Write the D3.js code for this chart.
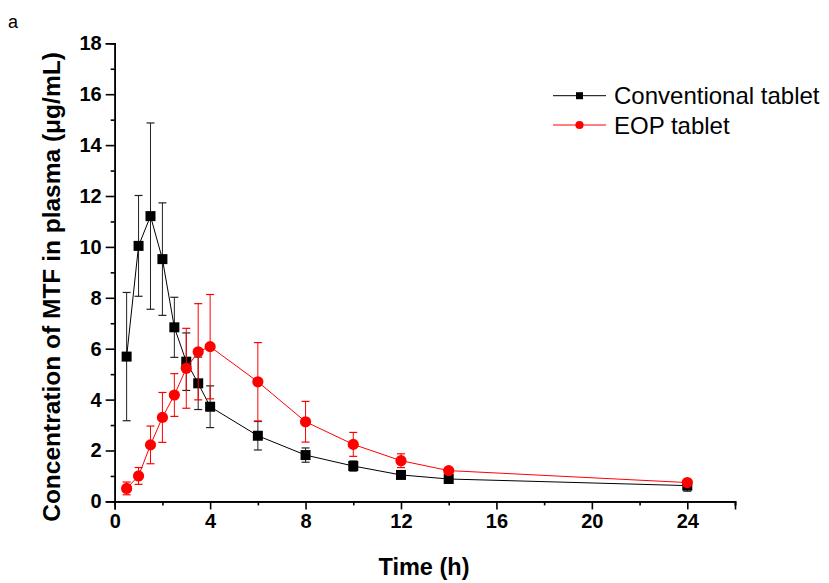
<!DOCTYPE html>
<html>
<head>
<meta charset="utf-8">
<script src="https://cdn.jsdelivr.net/npm/d3@7"></script>
<style>
  body { margin: 0; background: #fff; }
  svg { display: block; font-family: "Liberation Sans", Arial, sans-serif; }
</style>
</head>
<body>
<div id="chart"></div>
<script>
// sampling times (h)
const times = [0.5, 1, 1.5, 2, 2.5, 3, 3.5, 4, 6, 8, 10, 12, 14, 24];

// conventional tablet, mean and SD (ug/mL)
const convMean = [5.69, 10.04, 11.21, 9.52, 6.84, 5.49, 4.64, 3.72, 2.58, 1.82, 1.39, 1.04, 0.88, 0.62];
const convSd   = [2.52, 1.98, 3.66, 2.21, 1.18, 1.13, 1.03, 0.82, 0.56, 0.28, 0.20, 0.12, 0.08, 0.22];

// EOP tablet
const eopMean = [0.51, 1.00, 2.22, 3.30, 4.18, 5.23, 5.88, 6.08, 4.70, 3.13, 2.24, 1.60, 1.21, 0.74];
const eopSd   = [0.25, 0.33, 0.74, 0.98, 0.84, 1.57, 1.89, 2.05, 1.54, 0.80, 0.47, 0.27, 0.08, 0.12];

const xMajor = [0, 4, 8, 12, 16, 20, 24];
const xMinor = [2, 6, 10, 14, 18, 22, 26];
const yMajor = [0, 2, 4, 6, 8, 10, 12, 14, 16, 18];
const yMinor = [1, 3, 5, 7, 9, 11, 13, 15, 17];

const seriesNames = ['Conventional tablet', 'EOP tablet'];

const width = 829, height = 583;

const svg = d3.select('#chart').append('svg')
  .attr('width', width)
  .attr('height', height);

const x = d3.scaleLinear().domain([0, 26]).range([114.7, 735]);
const y = d3.scaleLinear().domain([0, 18]).range([501.4, 43.3]);

// build series from the arrays
const series = [
  { name: seriesNames[0], color: '#000', barColor: '#222', shape: 'square',
    pts: times.map((t, i) => ({ t, m: convMean[i], sd: convSd[i] })) },
  { name: seriesNames[1], color: '#ff0000', barColor: '#ff0000', shape: 'circle',
    pts: times.map((t, i) => ({ t, m: eopMean[i], sd: eopSd[i] })) }
];

// axes
const xAxis = d3.axisBottom(x).tickValues(xMajor).tickSize(8).tickPadding(4).tickFormat(d3.format('d'));
const xAxisMinor = d3.axisBottom(x).tickValues(xMinor).tickSize(4).tickFormat('');
const yAxis = d3.axisLeft(y).tickValues(yMajor).tickSize(9).tickPadding(4).tickFormat(d3.format('d'));
const yAxisMinor = d3.axisLeft(y).tickValues(yMinor).tickSize(4).tickFormat('');

function styleAxis(g) {
  g.select('.domain').attr('stroke', '#000').attr('stroke-width', 1.6);
  g.selectAll('.tick line').attr('stroke', '#000').attr('stroke-width', 1.6);
  g.selectAll('.tick text')
    .attr('fill', '#000')
    .style('font-size', '20px')
    .style('font-weight', 'bold');
}

svg.append('g').attr('transform', `translate(0,${y(0)})`).call(xAxisMinor).call(styleAxis);
svg.append('g').attr('transform', `translate(0,${y(0)})`).call(xAxis).call(styleAxis);
svg.append('g').attr('transform', `translate(${x(0)},0)`).call(yAxisMinor).call(styleAxis);
svg.append('g').attr('transform', `translate(${x(0)},0)`).call(yAxis).call(styleAxis);

// axis titles
svg.append('text')
  .attr('x', 424)
  .attr('y', 575)
  .attr('text-anchor', 'middle')
  .style('font-size', '23.5px')
  .style('font-weight', 'bold')
  .text('Time (h)');

svg.append('text')
  .attr('transform', 'translate(60,287) rotate(-90)')
  .attr('text-anchor', 'middle')
  .style('font-size', '24.5px')
  .style('font-weight', 'bold')
  .text('Concentration of MTF in plasma (μg/mL)');

svg.append('text')
  .attr('x', 8)
  .attr('y', 28)
  .style('font-size', '18px')
  .text('a');

const line = d3.line().x(d => x(d.t)).y(d => y(d.m));

function drawMarker(g, shape, cx, cy, size, color) {
  if (shape === 'square') {
    g.append('rect')
      .attr('x', cx - size / 2).attr('y', cy - size / 2)
      .attr('width', size).attr('height', size)
      .attr('fill', color);
  } else {
    g.append('circle')
      .attr('cx', cx).attr('cy', cy)
      .attr('r', size / 2 + 0.6)
      .attr('fill', color);
  }
}

series.forEach(s => {
  const g = svg.append('g');

  // error bars
  const cap = 4;
  s.pts.forEach(p => {
    const px = x(p.t);
    const y1 = y(p.m + p.sd), y2 = y(p.m - p.sd);
    g.append('line').attr('x1', px).attr('x2', px).attr('y1', y1).attr('y2', y2)
      .attr('stroke', s.barColor).attr('stroke-width', 1);
    [y1, y2].forEach(yy => {
      g.append('line').attr('x1', px - cap).attr('x2', px + cap).attr('y1', yy).attr('y2', yy)
        .attr('stroke', s.barColor).attr('stroke-width', 1.2);
    });
  });

  g.append('path')
    .datum(s.pts)
    .attr('d', line)
    .attr('fill', 'none')
    .attr('stroke', s.color)
    .attr('stroke-width', 1);

  s.pts.forEach(p => drawMarker(g, s.shape, x(p.t), y(p.m), 10, s.color));
});

// legend
const legend = svg.append('g');
series.forEach((s, i) => {
  const ly = 95.7 + i * 29.3;
  legend.append('line')
    .attr('x1', 553).attr('x2', 606).attr('y1', ly).attr('y2', ly)
    .attr('stroke', s.color).attr('stroke-width', 1);
  drawMarker(legend, s.shape, 579.5, ly, 7, s.color);
  legend.append('text')
    .attr('x', 614)
    .attr('y', ly + 8.5)
    .style('font-size', '24px')
    .text(s.name);
});
</script>
</body>
</html>
